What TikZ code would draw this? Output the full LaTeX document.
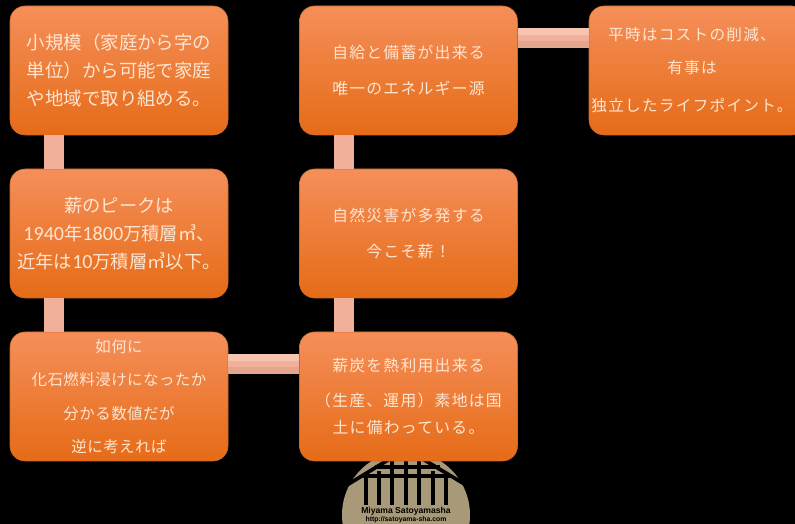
\documentclass[tikz,border=0pt]{standalone}
\usepackage{fontspec}
\setmainfont{Carlito}
\newfontfamily\jpfont{Noto Sans CJK JP}
\newfontfamily\jpwide[LetterSpace=8]{Noto Sans CJK JP}
\newfontfamily\jpmid[LetterSpace=3]{Noto Sans CJK JP}
\newfontfamily\numfont[Scale=1.1]{Carlito}
\newfontfamily\logofont{Liberation Sans}
\tikzset{
  box/.style={rounded corners=0.3cm,draw=col_edge,line width=0.3pt,
    top color=col_top,middle color=col_mid,bottom color=col_bot,
    minimum width=4.36cm,minimum height=2.58cm,inner sep=0pt,
    text=col_lab,align=center},
  link/.style={draw=col_link,line width=0.4cm},
  linkh/.style={draw=col_linkb,line width=0.4cm,
    postaction={draw=col_link,line width=0.27cm,transform canvas={yshift=0.065cm}},
    postaction={draw=col_linkt,line width=0.14cm,transform canvas={yshift=0.13cm}}},
  post/.style={black,line width=2.1pt}
}
\begin{document}
\begin{tikzpicture}
%
\definecolor{col_top}{rgb}{0.96,0.56,0.35}
\definecolor{col_mid}{rgb}{0.98,0.49,0.16}
\definecolor{col_bot}{rgb}{0.90,0.42,0.09}
\definecolor{col_edge}{rgb}{0.80,0.42,0.18}
\definecolor{col_lab}{rgb}{1.0,0.90,0.82}
\definecolor{col_link}{rgb}{0.94,0.69,0.60}
\definecolor{col_linkt}{rgb}{0.97,0.77,0.69}
\definecolor{col_linkb}{rgb}{0.90,0.65,0.56}
\definecolor{col_logo}{rgb}{0.66,0.60,0.47}
%
\fill[black] (0,0) rectangle (15.9,10.48);
\clip (0,0) rectangle (15.9,10.48);
%
% logo
\fill[col_logo] (8.12,0.18) circle (1.28cm);
\draw[post] (6.94,0.78) -- (8.12,1.5) -- (9.32,0.78);
\draw[post] (7.5,1.14) -- (8.8,1.14);
\draw[post] (7.25,0.96) -- (9.0,0.96);
\foreach \x/\y in {7.32/0.92,7.58/1.06,7.84/1.25,8.12/1.3,8.38/1.25,8.66/1.06,8.92/0.92}
  \draw[post] (\x,0.38) -- (\x,\y);
\node[inner sep=0pt] (logoa) at (8.12,0.245)
  {\logofont\fontsize{4.9}{4.9}\selectfont\bfseries Miyama Satoyamasha};
\node[inner sep=0pt] (logob) at (8.12,0.09)
  {\logofont\fontsize{3.9}{3.9}\selectfont\bfseries http://satoyama-sha.com};
%
% boxes
\node[box,font=\jpfont\fontsize{10.5}{16}\selectfont] (a0) at (2.38,9.07)
  {小規模（家庭から字の\\単位）から可能で家庭\\や地域で取り組める。};
\node[box,font=\jpfont\fontsize{10.4}{16}\selectfont] (a1) at (2.38,5.81)
  {薪のピークは\\{\numfont 1940}年{\numfont 1800}万積層㎥、\\近年は{\numfont 10}万積層㎥以下。};
\node[box,font=\jpmid\fontsize{8.8}{19}\selectfont] (a2) at (2.38,2.55)
  {如何に\\化石燃料浸けになったか\\分かる数値だが\\逆に考えれば};
\node[box,font=\jpwide\fontsize{9}{20}\selectfont] (b0) at (8.17,9.07)
  {自給と備蓄が出来る\\唯一のエネルギー源};
\node[box,font=\jpwide\fontsize{9}{20}\selectfont] (b1) at (8.17,5.81)
  {自然災害が多発する\\今こそ薪！};
\node[box,font=\jpwide\fontsize{9}{18}\selectfont] (b2) at (8.17,2.55)
  {薪炭を熱利用出来る\\[2pt]（生産、運用）素地は国\\[-2.6pt]土に備わっている。};
\node[box] (c0) at (13.96,9.07) {};
\node[text=col_lab,align=center,inner sep=0pt,font=\jpwide\fontsize{8.9}{20}\selectfont] (c0lab) at (13.84,9.07)
  {平時はコストの削減、\\[-1.2pt]有事は\\[1.6pt]独立したライフポイント。};
%
% connectors
\draw[link] ([xshift=-1.3cm]a0.south) -- ([xshift=-1.3cm]a1.north);
\draw[link] ([xshift=-1.3cm]a1.south) -- ([xshift=-1.3cm]a2.north);
\draw[link] ([xshift=-1.3cm]b0.south) -- ([xshift=-1.3cm]b1.north);
\draw[link] ([xshift=-1.3cm]b1.south) -- ([xshift=-1.3cm]b2.north);
\draw[linkh] ([yshift=0.65cm]a2.east) -- ([yshift=0.65cm]b2.west);
\draw[linkh] ([yshift=0.65cm]b0.east) -- ([yshift=0.65cm]c0.west);
%
\end{tikzpicture}
\end{document}
